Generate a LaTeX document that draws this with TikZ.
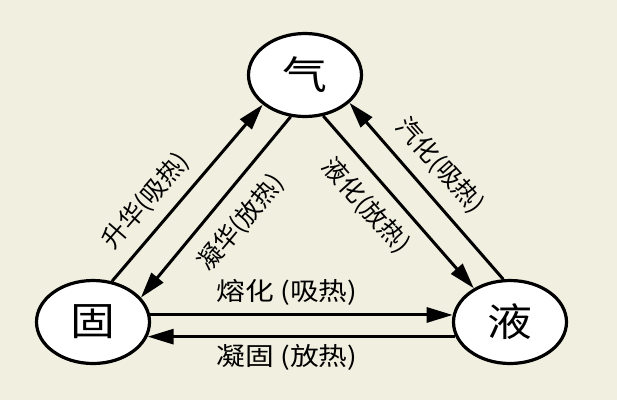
\documentclass[tikz,border=0pt]{standalone}
\usepackage{fontspec}
\usepackage{graphicx}
\newfontfamily\cjk{Noto Sans CJK SC}
\usetikzlibrary{shapes.geometric,arrows.meta}
\definecolor{paper}{RGB}{240,239,224}
\begin{document}
\begin{tikzpicture}[x=1pt,y=-1pt,
  state/.style={ellipse, draw, line width=3.2pt, fill=white, minimum width=113pt, minimum height=83pt, inner sep=0pt, font=\cjk\fontsize{39}{39}\selectfont},
  conn/.style={line width=3pt, -{Triangle[length=26pt,width=15pt]}},
  lbl/.style={inner sep=0pt, font=\cjk\fontsize{25}{25}\selectfont}]
\fill[paper] (0,0) rectangle (617,400);
\useasboundingbox (0,0) rectangle (617,400);
\node[state] (qi) at (305,75) {\scalebox{1.15}[1]{气}};
\node[state] (gu) at (93,322) {\scalebox{1.15}[1]{固}};
\node[state] (ye) at (510,322) {\scalebox{1.15}[1]{液}};
\draw[conn] (gu.65) -- (qi.215);
\draw[conn] (qi.251) -- (gu.27);
\draw[conn] (qi.294) -- (ye.137);
\draw[conn] (ye.99) -- (qi.328);
\draw[conn] (gu.7) -- (ye.173);
\draw[conn] (ye.195) -- (gu.-15);
\node[lbl, rotate=49] (l1) at (146,201) {升华(吸热)};
\node[lbl, rotate=50] (l2) at (241,223) {凝华(放热)};
\node[lbl, rotate=-48] (l3) at (366,206) {液化(放热)};
\node[lbl, rotate=-48] (l4) at (440,166) {汽化(吸热)};
\node[lbl] (l5) at (287,292) {\scalebox{1.15}[1]{熔化 (吸热)}};
\node[lbl] (l6) at (287,357) {\scalebox{1.15}[1]{凝固 (放热)}};
\end{tikzpicture}
\end{document}
